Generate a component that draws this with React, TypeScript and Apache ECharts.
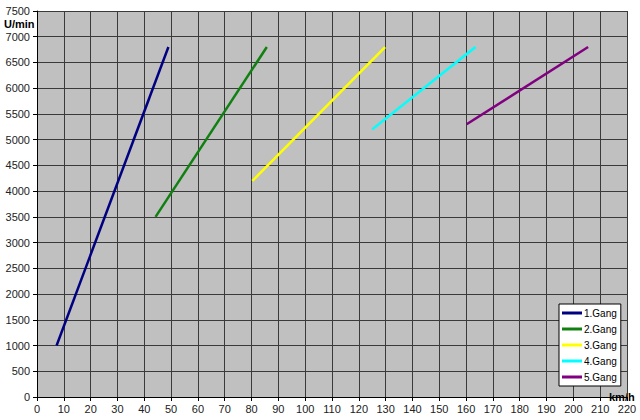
import React, { useEffect, useRef } from "react";
import * as echarts from "echarts";

const gearNames = ["1.Gang", "2.Gang", "3.Gang", "4.Gang", "5.Gang"];
const gearColors = ["#000080", "#118011", "#ffff00", "#00ffff", "#800080"];
// [km/h, U/min] start and end points per gear
const gang1: [number, number][] = [[7.3, 1000], [49, 6800]];
const gang2: [number, number][] = [[44.2, 3500], [85.7, 6800]];
const gang3: [number, number][] = [[80.3, 4200], [129.8, 6800]];
const gang4: [number, number][] = [[125, 5200], [163.5, 6800]];
const gang5: [number, number][] = [[160.2, 5300], [205.5, 6800]];
const gangData = [gang1, gang2, gang3, gang4, gang5];

const xMin = 0, xMax = 220, xStep = 10;
const yMin = 0, yMax = 7500, yStep = 500;

export default function App() {
  const ref = useRef<HTMLDivElement>(null);
  useEffect(() => {
    document.body.style.margin = "0";
    const chart = echarts.init(ref.current!, null, { renderer: "svg" });
    const font = "'Liberation Sans', Arial, sans-serif";
    chart.setOption({
      animation: false,
      backgroundColor: "#ffffff",
      textStyle: { fontFamily: font },
      grid: { left: 37, top: 11, right: 13, bottom: 23, show: true, backgroundColor: "#c0c0c0", borderColor: "#000", borderWidth: 0 },
      xAxis: {
        type: "value", min: xMin, max: xMax, interval: xStep,
        axisLine: { show: true, lineStyle: { color: "#000", width: 1 } },
        axisTick: { show: true, length: 4, lineStyle: { color: "#000" } },
        axisLabel: { color: "#222", fontSize: 11, fontFamily: font, margin: 6, formatter: (v: number) => String(v) },
        splitLine: { show: true, lineStyle: { color: "#3a3a3a", width: 1 } },
      },
      yAxis: {
        type: "value", min: yMin, max: yMax, interval: yStep,
        axisLine: { show: true, lineStyle: { color: "#000", width: 1 } },
        axisTick: { show: true, length: 4, lineStyle: { color: "#000" } },
        axisLabel: { color: "#222", fontSize: 11, fontFamily: font, margin: 7, formatter: (v: number) => String(v) },
        splitLine: { show: true, lineStyle: { color: "#3a3a3a", width: 1 } },
      },
      legend: {
        orient: "vertical", left: 559, top: 304, width: 58,
        backgroundColor: "#ffffff", borderColor: "#000", borderWidth: 1,
        padding: [3, 4, 3, 3], itemGap: 4, itemWidth: 20, itemHeight: 3, icon: "rect",
        textStyle: { fontSize: 10, fontFamily: font, color: "#000", padding: [0, 0, 0, -3], lineHeight: 12 },
        data: gearNames,
      },
      graphic: [
        { type: "text", left: 4, top: 18, style: { text: "U/min", font: `bold 11px ${font}`, fill: "#000" } },
        { type: "text", left: 609, top: 391, style: { text: "km/h", font: `bold 11px ${font}`, fill: "#000" } },
      ],
      series: gangData.map((d, i) => ({
        name: gearNames[i], type: "line", data: d, showSymbol: false,
        lineStyle: { color: gearColors[i], width: 2.5 }, itemStyle: { color: gearColors[i] },
      })),
    });
    return () => chart.dispose();
  }, []);
  return <div ref={ref} style={{ width: 640, height: 420 }} />;
}
